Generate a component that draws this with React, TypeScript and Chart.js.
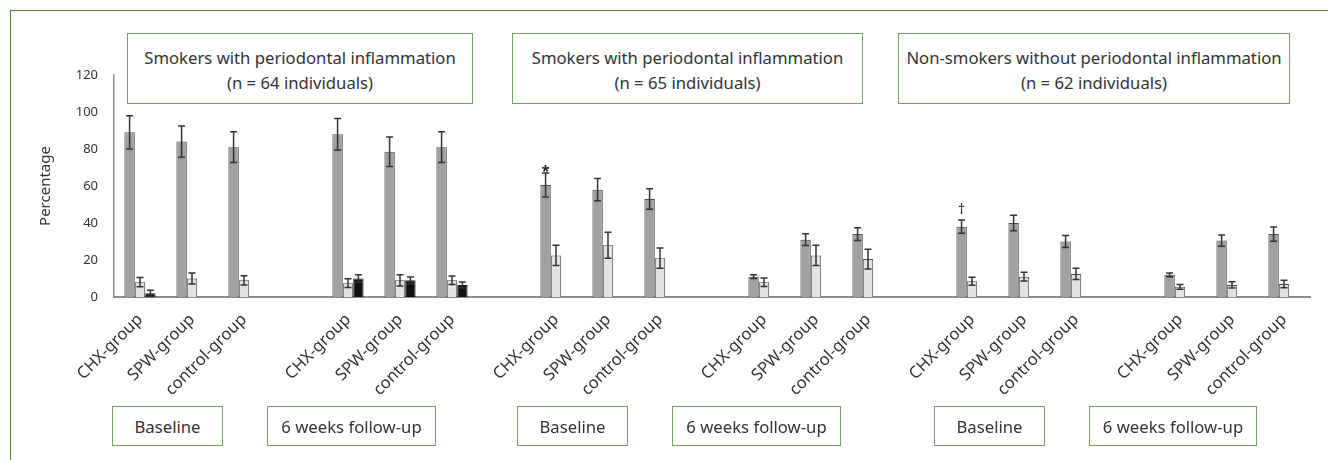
import React, { useEffect, useRef } from "react";
import { Chart, registerables } from "chart.js";

Chart.register(...registerables);

// Category axis: three groups per time point, with an empty slot between clusters
const categories = [
  "CHX-group", "SPW-group", "control-group", "",
  "CHX-group", "SPW-group", "control-group", "",
  "CHX-group", "SPW-group", "control-group", "",
  "CHX-group", "SPW-group", "control-group", "",
  "CHX-group", "SPW-group", "control-group", "",
  "CHX-group", "SPW-group", "control-group",
];

// Dark grey series (mean %) and its error
const darkValues = [89, 84, 81, null, 88, 78.5, 81, null, 60.5, 58, 53, null, 11, 31, 34, null, 38, 40, 30, null, 12, 30.5, 34];
const darkErrors = [9, 8.5, 8.3, null, 8.5, 8, 8.3, null, 6.5, 6, 5.5, null, 1, 3.2, 3.4, null, 3.6, 4.2, 3.3, null, 1, 3, 3.8];

// Light grey series
const lightValues = [8, 10, 9, null, 7.5, 9, 9, null, 22.5, 28, 21, null, 8, 22.5, 20.5, null, 8.5, 11, 12.5, null, 5.5, 6.5, 7];
const lightErrors = [2.5, 3, 2.5, null, 2.3, 3, 2.3, null, 5.5, 7, 5.5, null, 2.3, 5.5, 5.3, null, 2.2, 2.4, 3, null, 1.3, 1.7, 2];

// Black series (only measured in the first cohort)
const blackValues = [2, null, null, null, 10, 9, 6.5, null, null, null, null, null, null, null, null, null, null, null, null, null, null, null, null];
const blackErrors = [1.7, null, null, null, 2, 1.8, 1.6, null, null, null, null, null, null, null, null, null, null, null, null, null, null, null, null];

// Significance markers above the dark grey bars
const significance = ["", "", "", "", "", "", "", "", "*", "", "", "", "", "", "", "", "\u2020", "", "", "", "", "", ""];

const yTicks = [0, 20, 40, 60, 80, 100, 120];

const cohortTitles = [
  ["Smokers with periodontal inflammation", "(n = 64 individuals)"],
  ["Smokers with periodontal inflammation", "(n = 65 individuals)"],
  ["Non-smokers without periodontal inflammation", "(n = 62 individuals)"],
];
const timeLabels = ["Baseline", "6 weeks follow-up", "Baseline", "6 weeks follow-up", "Baseline", "6 weeks follow-up"];

const FONT = "'Noto Sans', sans-serif";
const TEXT = "#333333";

const errorSets = [darkErrors, lightErrors, blackErrors];

const errorBarPlugin = {
  id: "errorBars",
  afterDatasetsDraw(chart: any) {
    const { ctx } = chart;
    const yScale = chart.scales.y;
    ctx.save();
    ctx.strokeStyle = "#333333";
    ctx.lineWidth = 1.5;
    chart.data.datasets.forEach((ds: any, di: number) => {
      const meta = chart.getDatasetMeta(di);
      const errs = errorSets[di];
      meta.data.forEach((bar: any, i: number) => {
        const v = ds.data[i];
        const e = errs[i];
        if (v == null || e == null) return;
        const x = bar.x;
        const yTop = yScale.getPixelForValue(v + e);
        const yBot = yScale.getPixelForValue(Math.max(v - e, 0));
        const cap = 3.5;
        ctx.beginPath();
        ctx.moveTo(x, yTop);
        ctx.lineTo(x, yBot);
        ctx.moveTo(x - cap, yTop);
        ctx.lineTo(x + cap, yTop);
        ctx.moveTo(x - cap, yBot);
        ctx.lineTo(x + cap, yBot);
        ctx.stroke();
      });
    });
    // significance symbols over the dark grey bars
    const meta0 = chart.getDatasetMeta(0);
    ctx.fillStyle = "#222222";
    ctx.textAlign = "center";
    ctx.textBaseline = "alphabetic";
    significance.forEach((s, i) => {
      if (!s) return;
      const bar: any = meta0.data[i];
      const top = yScale.getPixelForValue((darkValues[i] as number) + (darkErrors[i] as number));
      if (s === "*") {
        ctx.font = `bold 15px ${FONT}`;
        ctx.fillText(s, bar.x, top + 3);
      } else {
        ctx.font = `14px ${FONT}`;
        ctx.fillText(s, bar.x, top - 6);
      }
    });
    ctx.restore();
  },
};

const boxBase: React.CSSProperties = {
  position: "absolute",
  boxSizing: "border-box",
  border: "1.5px solid #6fa35e",
  background: "#ffffff",
  color: TEXT,
  fontFamily: FONT,
  fontSize: 16.7,
  display: "flex",
  flexDirection: "column",
  alignItems: "center",
  justifyContent: "center",
  textAlign: "center",
  whiteSpace: "nowrap",
};

const topBoxes = [
  { left: 127, width: 346 },
  { left: 512, width: 351 },
  { left: 898, width: 392 },
];
const bottomBoxes = [
  { left: 112, width: 111 },
  { left: 267, width: 169 },
  { left: 517, width: 111 },
  { left: 672, width: 169 },
  { left: 934, width: 111 },
  { left: 1089, width: 168 },
];

export default function App() {
  const canvasRef = useRef<HTMLCanvasElement | null>(null);

  useEffect(() => {
    const canvas = canvasRef.current;
    if (!canvas) return;
    const chart = new Chart(canvas, {
      type: "bar",
      data: {
        labels: categories,
        datasets: [
          {
            data: darkValues,
            backgroundColor: "#a0a0a0",
            borderColor: "#4a4a4a",
            borderWidth: 1,
          },
          {
            data: lightValues,
            backgroundColor: "#e2e2e2",
            borderColor: "#4a4a4a",
            borderWidth: 1,
          },
          {
            data: blackValues,
            backgroundColor: "#111111",
            borderColor: "#222222",
            borderWidth: 1,
          },
        ] as any,
      },
      options: {
        responsive: false,
        animation: false,
        layout: { padding: { left: 0, right: 18, top: 75, bottom: 0 } },
        datasets: { bar: { categoryPercentage: 0.6, barPercentage: 1.0 } } as any,
        plugins: { legend: { display: false }, tooltip: { enabled: false } },
        scales: {
          x: {
            grid: { display: false, drawTicks: false },
            border: { display: true, color: "#8c8c8c", width: 2 },
            ticks: {
              autoSkip: false,
              minRotation: 45,
              maxRotation: 45,
              padding: 13,
              color: TEXT,
              font: { family: FONT, size: 16.5 },
            },
            afterFit: (s: any) => {
              s.height = 163;
            },
          },
          y: {
            min: 0,
            max: 120,
            afterBuildTicks: (s: any) => {
              s.ticks = yTicks.map((v) => ({ value: v }));
            },
            grid: { display: false, drawTicks: false },
            border: { display: true, color: "#8c8c8c", width: 1.5 },
            ticks: { padding: 16, color: TEXT, font: { family: FONT, size: 13 } },
            title: {
              display: true,
              text: "Percentage",
              color: TEXT,
              font: { family: FONT, size: 15 },
              padding: { top: 37, bottom: 0 },
            },
            afterFit: (s: any) => {
              s.width = 114;
            },
          },
        },
      },
      plugins: [errorBarPlugin],
    });
    return () => chart.destroy();
  }, []);

  return (
    <div style={{ position: "fixed", left: 0, top: 0, width: 1328, height: 460, background: "#ffffff", overflow: "hidden" }}>
      <div
        style={{
          position: "absolute",
          left: 10,
          top: 10,
          width: 1330,
          height: 470,
          boxSizing: "border-box",
          borderTop: "1.5px solid #3f8c30",
          borderLeft: "1.5px solid #3f8c30",
        }}
      />
      <canvas ref={canvasRef} width={1328} height={460} style={{ position: "absolute", left: 0, top: 0 }} />
      {topBoxes.map((b, i) => (
        <div key={"t" + i} style={{ ...boxBase, left: b.left, top: 33, width: b.width, height: 71, lineHeight: "25px", paddingTop: 3 }}>
          <div>{cohortTitles[i][0]}</div>
          <div>{cohortTitles[i][1]}</div>
        </div>
      ))}
      {bottomBoxes.map((b, i) => (
        <div key={"b" + i} style={{ ...boxBase, left: b.left, top: 406, width: b.width, height: 40 }}>
          {timeLabels[i]}
        </div>
      ))}
    </div>
  );
}
